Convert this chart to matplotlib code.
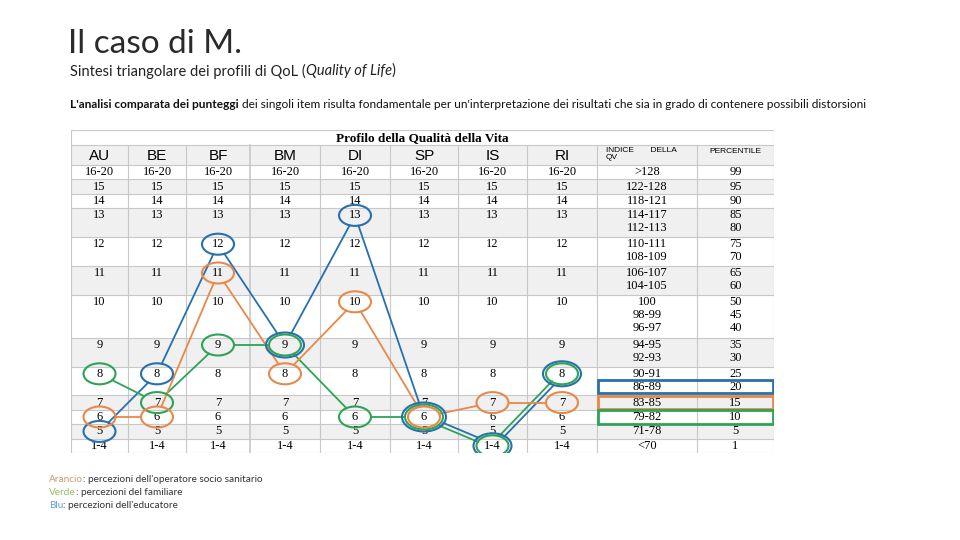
import matplotlib
matplotlib.use("Agg")
import matplotlib.pyplot as plt
from matplotlib.patches import Ellipse, Rectangle
import numpy as np

# dati della tabella
columns = ["AU", "BE", "BF", "BM", "DI", "SP", "IS", "RI"]
score_rows = ["16-20", "15", "14", "13", "12", "11", "10", "9", "8", "7", "6", "5", "1-4"]
qv_index = [[">128"], ["122-128"], ["118-121"], ["114-117", "112-113"], ["110-111", "108-109"],
            ["106-107", "104-105"], ["100", "98-99", "96-97"], ["94-95", "92-93"], ["90-91", "86-89"],
            ["83-85"], ["79-82"], ["71-78"], ["<70"]]
percentile = [["99"], ["95"], ["90"], ["85", "80"], ["75", "70"], ["65", "60"], ["50", "45", "40"],
              ["35", "30"], ["25", "20"], ["15"], ["10"], ["5"], ["1"]]

# profili (punteggio per area)
blu = ["5", "8", "12", "9", "13", "6", "1-4", "8"]        # educatore
arancio = ["6", "6", "11", "8", "10", "6", "7", "7"]      # operatore socio sanitario
verde = ["8", "7", "9", "9", "6", "6", "1-4", "8"]        # familiare
qv_blu, qv_arancio, qv_verde = "86-89", "83-85", "79-82"

C_BLU = "#2670b0"
C_ARANCIO = "#e8884a"
C_VERDE = "#2ea356"

# layout tabella (unità = pixel)
col_w = [57, 58, 64, 70, 70, 68, 69, 70, 100, 77]
col_x = np.concatenate([[0], np.cumsum(col_w)])
col_c = (col_x[:-1] + col_x[1:]) / 2
TITLE_H, HEAD_H, LINE_H = 15, 20, 14.4
n_lines = [len(q) for q in qv_index]
row_top = TITLE_H + HEAD_H + LINE_H * np.concatenate([[0], np.cumsum(n_lines)])
TOT_W, TOT_H = col_x[-1], row_top[-1]

fig = plt.figure(figsize=(9.6, 5.4), dpi=100)
page = fig.add_axes([0, 0, 1, 1])
page.set_xlim(0, 960)
page.set_ylim(540, 0)
page.axis("off")

L, T = 71, 130
ax = fig.add_axes([L / 960, 1 - (T + TOT_H) / 540, TOT_W / 960, TOT_H / 540])
ax.set_xlim(0, TOT_W)
ax.set_ylim(TOT_H, 0)
ax.axis("off")

grid = "#c8c8c8"
serif = "Liberation Serif"
sans = "Liberation Sans"

# sfondi righe
ax.add_patch(Rectangle((0, TITLE_H), TOT_W, HEAD_H, facecolor="#f0f0f0", edgecolor="none"))
for i in range(len(score_rows)):
    if i % 2 == 1:
        ax.add_patch(Rectangle((0, row_top[i]), TOT_W, row_top[i + 1] - row_top[i],
                               facecolor="#f0f0f0", edgecolor="none"))
# griglia
for y in [0, TITLE_H] + list(row_top):
    ax.plot([0, TOT_W], [y, y], color=grid, lw=0.8)
for j, x in enumerate(col_x):
    y0 = 0 if j in (0, len(col_x) - 1) else TITLE_H
    ax.plot([x, x], [y0, TOT_H], color=grid, lw=1.2 if j == 3 else 0.8)

ax.text(TOT_W / 2, TITLE_H / 2 + 0.5, "Profilo della Qualità della Vita", ha="center", va="center",
        family=serif, fontweight="bold", fontsize=9.5)
for j, c in enumerate(columns):
    ax.text(col_c[j], TITLE_H + HEAD_H / 2 + 1, c, ha="center", va="center", family=sans, fontsize=11)
ax.text(col_x[8] + 9, TITLE_H + 2, "INDICE       DELLA\nQV", ha="left", va="top", family=sans,
        fontsize=6, linespacing=1.0)
ax.text(col_c[9], TITLE_H + 6, "PERCENTILE", ha="center", va="center", family=sans, fontsize=6)

for i, s in enumerate(score_rows):
    yc = row_top[i] + LINE_H / 2
    for j in range(len(columns)):
        ax.text(col_c[j], yc, s, ha="center", va="center", family=serif, fontsize=9)
    for k, (q, p) in enumerate(zip(qv_index[i], percentile[i])):
        ax.text(col_c[8], yc + k * LINE_H * 0.9, q, ha="center", va="center", family=serif, fontsize=9)
        ax.text(col_c[9], yc + k * LINE_H * 0.9, p, ha="center", va="center", family=serif, fontsize=9)


def line_pos(label):
    for i, q in enumerate(qv_index):
        if label in q:
            k = q.index(label)
            return row_top[i] + k * LINE_H * 0.9
    return None


# riquadri sull'indice QV
for lab, col in [(qv_blu, C_BLU), (qv_arancio, C_ARANCIO), (qv_verde, C_VERDE)]:
    y = line_pos(lab)
    ax.add_patch(Rectangle((col_x[8] + 1, y + 0.5), col_x[10] - col_x[8] - 2, LINE_H - 1,
                           facecolor="none", edgecolor=col, lw=2.0, zorder=5))

# profili
series = [("blu", blu, C_BLU), ("verde", verde, C_VERDE), ("arancio", arancio, C_ARANCIO)]
EW, EH = 32, 21


def point(j, s):
    i = score_rows.index(s)
    return col_c[j], row_top[i] + LINE_H / 2


sizes = {}
for name, vals, col in series:
    for j, s in enumerate(vals):
        sharing = [n for n, v, _ in series if v[j] == s]
        rank = len(sharing) - 1 - sharing.index(name)
        sizes[(name, j)] = (EW + 6 * rank, EH + 4 * rank)

for name, vals, col in series:
    for j, s in enumerate(vals):
        x, y = point(j, s)
        w, h = sizes[(name, j)]
        ax.add_patch(Ellipse((x, y), w, h, facecolor="none", edgecolor=col, lw=1.5, zorder=6))
    for j in range(len(vals) - 1):
        x0, y0 = point(j, vals[j])
        x1, y1 = point(j + 1, vals[j + 1])
        d = np.array([x1 - x0, y1 - y0])
        a0, b0 = sizes[(name, j)][0] / 2, sizes[(name, j)][1] / 2
        a1, b1 = sizes[(name, j + 1)][0] / 2, sizes[(name, j + 1)][1] / 2
        t0 = 1 / np.sqrt((d[0] / a0) ** 2 + (d[1] / b0) ** 2)
        t1 = 1 / np.sqrt((d[0] / a1) ** 2 + (d[1] / b1) ** 2)
        p0 = np.array([x0, y0]) + d * t0
        p1 = np.array([x1, y1]) - d * t1
        shared = [n for n, v, _ in series if v[j] == vals[j] and v[j + 1] == vals[j + 1]]
        if len(shared) > 1:
            nrm = np.array([-d[1], d[0]]) / np.hypot(*d)
            if nrm[0] < 0:
                nrm = -nrm
            off = 2.0 if shared.index(name) == 0 else -2.0
            p0 = p0 + nrm * off
            p1 = p1 + nrm * off
        ax.plot([p0[0], p1[0]], [p0[1], p1[1]], color=col, lw=1.3, zorder=4)

# testi della slide
renderer = fig.canvas.get_renderer()


def runs(x, y, parts, **kw):
    for s, extra in parts:
        t = page.text(x, y, s, va="center", ha="left", **kw, **extra)
        x += t.get_window_extent(renderer).width


page.text(68, 44, "Il caso di M.", family="Lato", fontsize=24,
          va="center", ha="left", color="#2a2a2a")
runs(70, 71, [("Sintesi triangolare dei profili di QoL (", {}),
              ("Quality of Life", {"style": "italic"}), (")", {})],
     family="Lato", fontsize=10.5, color="#222222")
runs(70, 104, [("L'analisi comparata dei punteggi", {"fontweight": "bold"}),
               (" dei singoli item risulta fondamentale per un'interpretazione dei risultati che sia in grado "
                "di contenere possibili distorsioni", {})],
     family="Lato", fontsize=8.6, color="#111111")

leg = [("Arancio", "#cf9a6c", ": percezioni dell'operatore socio sanitario"),
       ("Verde", "#95bd63", ": percezioni del familiare"),
       ("Blu", "#6a9cc6", ": percezioni dell'educatore")]
for k, (w, c, rest) in enumerate(leg):
    runs(49, 480 + k * 12.5, [(w, {"color": c}), (rest, {"color": "#333333"})],
         family="Lato", fontsize=7.2)

fig.savefig("out.png", dpi=100)
